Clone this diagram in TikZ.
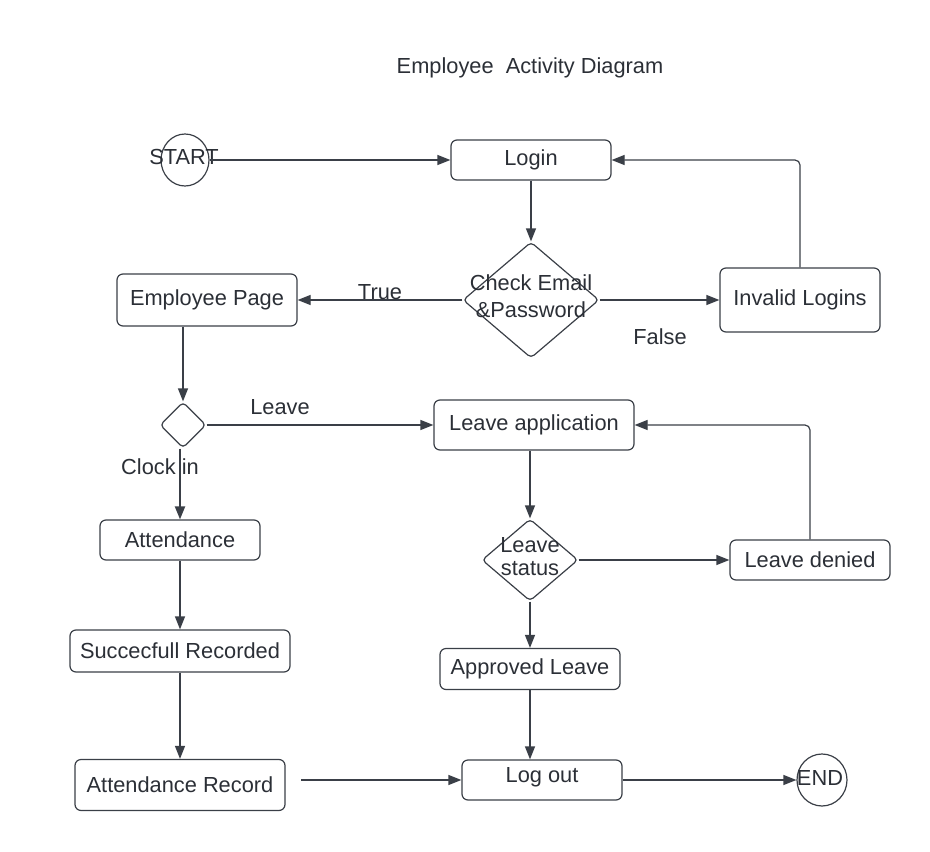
\documentclass[tikz,border=0pt]{standalone}
\usepackage{fontspec}
\setmainfont{Liberation Sans}
\usetikzlibrary{shapes.geometric,arrows.meta}
\definecolor{ln}{HTML}{3A3F47}
\definecolor{tx}{HTML}{2B2F36}
\begin{document}
\begin{tikzpicture}[x=1pt,y=-1pt,
  font=\fontsize{21.8}{26}\selectfont, text=tx,
  box/.style={draw=ln,line width=1.2pt,rounded corners=6pt,inner sep=0pt},
  dia/.style={draw=ln,line width=1.2pt,diamond,rounded corners=4pt,inner sep=0pt},
  circ/.style={draw=ln,line width=1.2pt,ellipse,inner sep=0pt},
  lbl/.style={inner sep=0pt},
  arr/.style={draw=ln,line width=1.2pt,-{Triangle[length=13pt,width=10pt]}}]
\useasboundingbox (0,0) rectangle (930,852);
\node[lbl] (title) at (530,68) {Employee\ \ Activity Diagram};
% start / end
\node[circ,minimum width=48pt,minimum height=52pt] (start) at (185,160) {};
\node[lbl] (starttxt) at (184,157) {START};
\node[circ,minimum width=50pt,minimum height=52pt] (end) at (822,780) {};
\node[lbl] (endtxt) at (820,778) {END};
% boxes
\node[box,minimum width=160pt,minimum height=40pt] (login) at (531,160) {Login};
\node[box,minimum width=180pt,minimum height=52pt] (emp) at (207,300) {Employee Page};
\node[box,minimum width=160pt,minimum height=64pt] (inv) at (800,300) {Invalid Logins};
\node[box,minimum width=200pt,minimum height=50pt] (lapp) at (534,425) {Leave application};
\node[box,minimum width=160pt,minimum height=40pt] (att) at (180,540) {Attendance};
\node[box,minimum width=220pt,minimum height=42pt] (succ) at (180,651) {Succecfull Recorded};
\node[box,minimum width=210pt,minimum height=51pt] (arec) at (180,785) {Attendance Record};
\node[box,minimum width=160pt,minimum height=40pt] (den) at (810,560) {Leave denied};
\node[box,minimum width=180pt,minimum height=41pt] (appr) at (530,669) {Approved Leave};
\node[box,minimum width=160pt,minimum height=40pt] (logout) at (542,780) {};
\node[lbl] (logouttxt) at (542,777) {Log out};
% diamonds
\node[dia,minimum width=136pt,minimum height=116pt] (chk) at (531,300) {};
\node[lbl,align=center] (chktxt) at (531,296) {Check Email\\[1pt]\&Password};
\node[dia,minimum width=46pt,minimum height=46pt] (dec) at (183,425) {};
\node[dia,minimum width=96pt,minimum height=82pt] (lst) at (530,560) {};
\node[lbl,align=center] (lsttxt) at (530,557) {Leave\\[-3pt]status};
% connectors
\draw[arr] (start.east) -- (login.west);
\draw[arr] (login.south) -- (chk.north);
\draw[arr] (chk.west) -- (emp.east);
\node[lbl] (ttrue) at (380,292) {True};
\draw[arr] (chk.east) -- (inv.west);
\node[lbl] (tfalse) at (660,337) {False};
\draw[arr,rounded corners=5pt] (inv.north) |- (login.east);
\draw[arr] (dec.north |- emp.south) -- (dec.north);
\draw[arr] (dec.east) -- (lapp.west);
\node[lbl] (tleave) at (280,407) {Leave};
\draw[arr,line width=2pt] (att.north |- dec.south) -- (att.north);
\node[lbl] (tclock) at (160,467) {Clock in};
\draw[arr] (att.south) -- (succ.north);
\draw[arr] (succ.south) -- (arec.north);
\draw[arr] (lst.north |- lapp.south) -- (lst.north);
\draw[arr] (lst.east) -- (den.west);
\draw[arr,rounded corners=5pt] (den.north) |- (lapp.east);
\draw[arr] (lst.south) -- (appr.north);
\draw[arr] (appr.south) -- (appr.south |- logout.north);
\coordinate (arout) at (301,780);
\draw[arr] (arout) -- (logout.west);
\draw[arr] (logout.east) -- (end.west);
\end{tikzpicture}
\end{document}
